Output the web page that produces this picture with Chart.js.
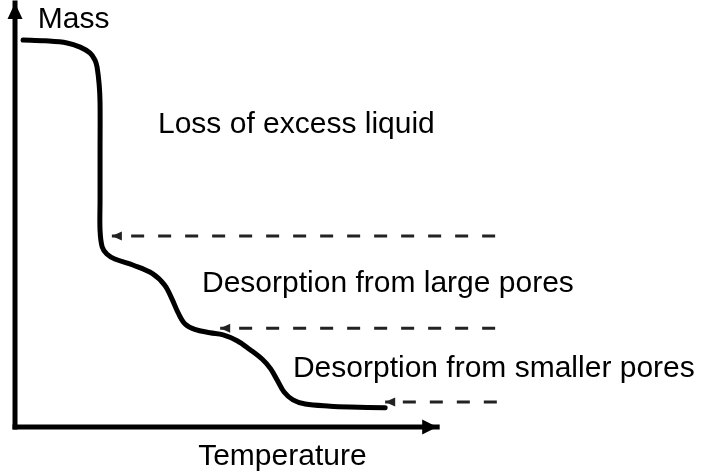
<!DOCTYPE html>
<html>
<head>
<meta charset="utf-8">
<script src="https://cdn.jsdelivr.net/npm/chart.js@4/dist/chart.umd.min.js"></script>
<style>
  html, body { margin: 0; padding: 0; background: #fff; }
  #chart { display: block; }
</style>
</head>
<body>
<canvas id="chart" width="702" height="473"></canvas>
<script>
// 질량 곡선 (온도, 질량) - 그림에서 읽은 값 (임의 단위)
const curveTemp = [1.9, 7.1, 12.3, 15.4, 17.7, 18.9, 19.4, 19.9, 20.1, 20.1, 20.1, 20.1, 20.6, 21.7, 23.6, 28.0, 32.5, 35.4, 37.2, 38.6, 40.2, 42.5, 46.1, 49.2, 52.5, 55.5, 58.4, 60.4, 62.0, 63.6, 65.7, 68.6, 74.5, 79.2, 87.5];
const curveMass = [92.8, 92.6, 92.1, 91.1, 89.7, 88.0, 86.3, 82.0, 77.7, 65.7, 54.4, 47.2, 43.2, 41.5, 40.3, 38.8, 36.8, 34.0, 30.5, 27.3, 24.7, 23.4, 22.6, 22.1, 20.7, 18.6, 16.3, 14.0, 11.2, 8.4, 6.5, 5.5, 5.0, 4.8, 4.6];

// 단계별 점선 화살표 (질량 수준, 화살촉 위치, 끝 위치)
const stepMass = [45.8, 23.7, 6.0];
const stepTipTemp = [22.9, 48.5, 87.5];
const stepEndTemp = [113.5, 113.5, 113.9];

// 축 끝 값
const axisTempEnd = 99.8;
const axisMassEnd = 101.7;

// 텍스트 라벨
const labelTexts = ['Mass', 'Loss of excess liquid', 'Desorption from large pores', 'Desorption from smaller pores', 'Temperature'];
const labelTemp = [5.4, 33.8, 44.2, 65.7, 43.3];
const labelMass = [95.7, 70.5, 32.4, 12.0, -9.1];

function toPoints(xs, ys) {
    return xs.map((x, i) => ({ x: x, y: ys[i] }));
}

const datasets = [];

// 축 (화살표 포함)
datasets.push({
    data: [{ x: 0, y: 0 }, { x: 0, y: axisMassEnd }],
    borderColor: '#000', borderWidth: 5, borderCapStyle: 'square',
    arrowHead: { length: 16, width: 15 }
});
datasets.push({
    data: [{ x: 0, y: 0 }, { x: axisTempEnd, y: 0 }],
    borderColor: '#000', borderWidth: 5, borderCapStyle: 'square',
    arrowHead: { length: 15, width: 15 }
});

// 질량 곡선
datasets.push({
    data: toPoints(curveTemp, curveMass),
    borderColor: '#000', borderWidth: 5, tension: 0.35,
    borderCapStyle: 'round', borderJoinStyle: 'round'
});

// 점선 화살표
stepMass.forEach((m, i) => {
    datasets.push({
        data: [{ x: stepEndTemp[i], y: m }, { x: stepTipTemp[i], y: m }],
        borderColor: '#222', borderWidth: 3, borderDash: [13, 14],
        arrowHead: { length: 10, width: 9 }
    });
});

datasets.forEach(ds => {
    ds.showLine = true;
    ds.pointRadius = 0;
    ds.pointHoverRadius = 0;
    ds.clip = false;
    if (ds.tension === undefined) ds.tension = 0;
});

// 화살촉 그리기
const arrowPlugin = {
    id: 'arrowHeads',
    afterDatasetsDraw(chart) {
        const ctx = chart.ctx;
        chart.data.datasets.forEach((ds, i) => {
            if (!ds.arrowHead) return;
            const pts = chart.getDatasetMeta(i).data;
            const a = pts[pts.length - 2], b = pts[pts.length - 1];
            const ang = Math.atan2(b.y - a.y, b.x - a.x);
            const L = ds.arrowHead.length, W = ds.arrowHead.width / 2;
            ctx.save();
            ctx.translate(b.x, b.y);
            ctx.rotate(ang);
            ctx.fillStyle = ds.borderColor;
            ctx.beginPath();
            ctx.moveTo(0, 0);
            ctx.lineTo(-L, -W);
            ctx.lineTo(-L, W);
            ctx.closePath();
            ctx.fill();
            ctx.restore();
        });
    }
};

// 텍스트 라벨 그리기
const labelPlugin = {
    id: 'textLabels',
    afterDatasetsDraw(chart) {
        const ctx = chart.ctx;
        const xs = chart.scales.x, ys = chart.scales.y;
        ctx.save();
        ctx.fillStyle = '#000';
        ctx.font = '30px "Liberation Sans", Arial, sans-serif';
        ctx.textAlign = 'left';
        ctx.textBaseline = 'alphabetic';
        labelTexts.forEach((t, i) => {
            ctx.fillText(t, xs.getPixelForValue(labelTemp[i]), ys.getPixelForValue(labelMass[i]));
        });
        ctx.restore();
    }
};

new Chart(document.getElementById('chart').getContext('2d'), {
    type: 'scatter',
    data: { datasets: datasets },
    options: {
        responsive: false,
        animation: false,
        layout: { padding: 0 },
        plugins: { legend: { display: false }, tooltip: { enabled: false } },
        scales: {
            x: { type: 'linear', min: -3.55, max: 162.4, display: false },
            y: { type: 'linear', min: -11.03, max: 102.4, display: false }
        }
    },
    plugins: [arrowPlugin, labelPlugin]
});
</script>
</body>
</html>
